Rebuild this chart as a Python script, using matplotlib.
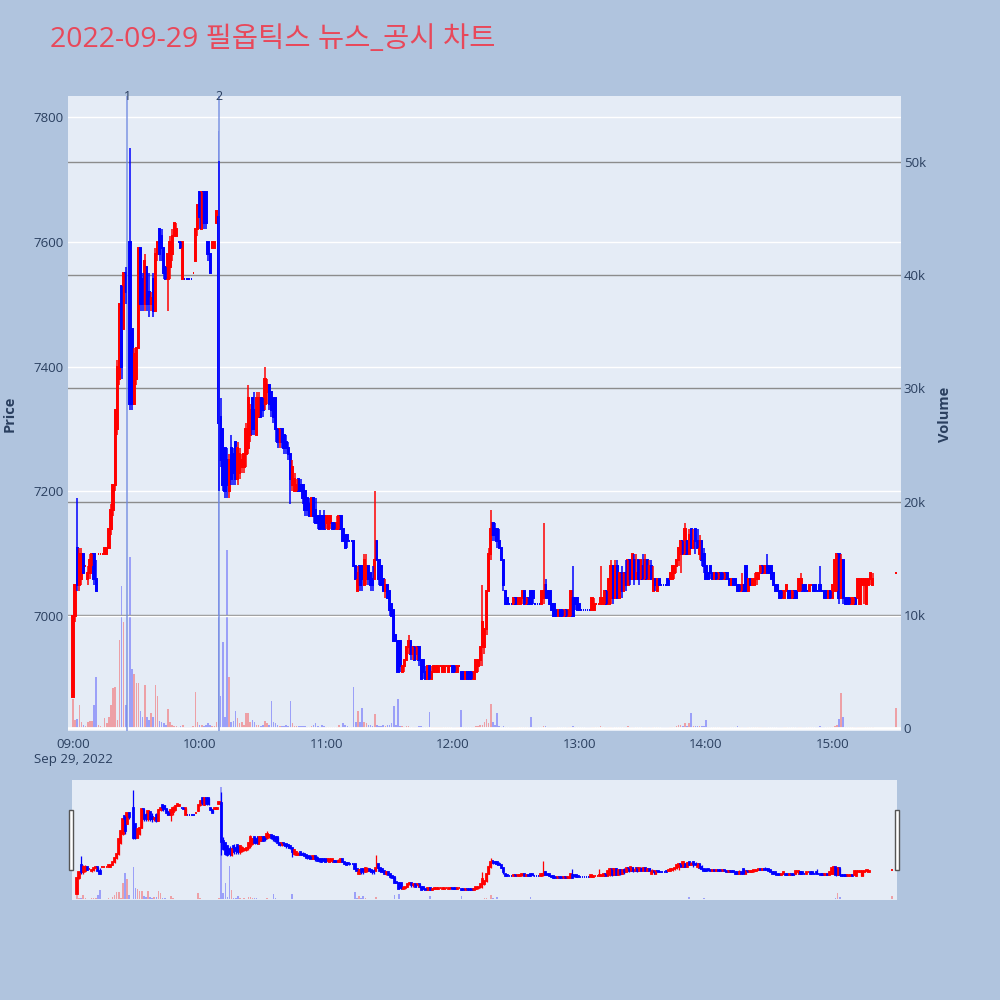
import pandas as pd
import matplotlib
matplotlib.use('Agg')
import matplotlib.pyplot as plt
import matplotlib.dates as mdates
import matplotlib.transforms as mtransforms
from matplotlib.patches import Rectangle
from matplotlib.ticker import FuncFormatter

plt.rcParams['font.family'] = ['Open Sans', 'Noto Sans CJK KR', 'DejaVu Sans']

title = '2022-09-29 필옵틱스 뉴스_공시 차트'
start = '2022-09-29 09:00'

# one candle per minute from 09:00 to 15:30 (None = no trade)
opens = [
    6870, 7000, 7110, 7050, 7060, 7100, 7080, 7060, 7070, 7090,
    7100, 7060, 7100, 7100, 7100, 7100, 7100, 7110, 7140, 7170,
    7210, 7300, 7380, 7530, 7460, 7550, None, 7600, 7460, 7340,
    7380, 7430, 7590, 7540, 7500, 7560, 7520, 7500, 7540, 7490,
    7580, 7620, 7610, 7590, 7560, 7540, 7560, 7580, 7610, 7610,
    7600, 7600, 7540, 7540, 7540, 7540, 7540, 7550, 7570, 7620,
    7680, 7620, 7680, 7680, 7600, 7580, 7590, 7590, 7630, 7640,
    7320, 7300, 7270, 7250, 7200, 7270, 7260, 7280, 7220, 7230,
    7240, 7240, 7260, 7270, 7290, 7350, 7330, 7290, 7320, 7350,
    7350, 7340, 7360, 7370, 7360, 7350, 7350, 7300, 7280, 7300,
    7290, 7280, 7270, 7260, 7210, 7200, 7200, 7220, 7210, 7210,
    7200, 7190, 7180, 7160, 7190, 7170, 7160, 7160, 7160, 7160,
    7150, 7140, 7150, 7150, 7150, 7140, 7140, 7160, 7140, 7130,
    7130, 7120, 7120, 7120, 7080, 7040, 7080, 7080, 7050, 7060,
    7080, 7070, 7060, 7060, 7120, 7090, 7080, 7060, 7040, 7050,
    7040, 7020, 7010, 6970, 6960, 6960, 6910, 6920, 6930, 6950,
    6960, 6940, 6950, 6940, 6950, 6930, 6930, 6910, 6900, 6920,
    6900, 6910, 6910, 6910, 6920, 6910, 6910, 6920, 6910, 6920,
    6920, 6920, 6910, 6920, 6910, 6910, 6900, 6910, 6910, 6910,
    6900, 6910, 6920, 6930, 6950, 6950, 6980, 7040, 7100, 7150,
    7140, 7140, 7120, 7110, 7090, 7040, 7030, 7020, 7020, 7020,
    7030, 7020, 7020, 7030, 7040, 7020, 7030, 7040, 7040, 7020,
    7020, 7020, 7020, 7030, 7050, 7040, 7040, 7020, 7020, 7010,
    7000, 7010, 7010, 7000, 7010, 7000, 7000, 7030, 7030, 7030,
    7020, 7010, 7010, 7010, 7010, 7010, 7010, 7010, 7020, 7020,
    7020, 7020, 7020, 7040, 7020, 7030, 7080, 7030, 7080, 7030,
    7070, 7040, 7070, 7050, 7090, 7060, 7090, 7060, 7090, 7060,
    7080, 7060, 7090, 7060, 7080, 7040, 7060, 7040, 7060, 7050,
    7050, 7050, 7060, 7060, 7060, 7070, 7080, 7090, 7100, 7120,
    7100, 7120, 7100, 7140, 7110, 7140, 7120, 7100, 7120, 7100,
    7080, 7070, 7080, 7070, 7060, 7070, 7060, 7070, 7070, 7060,
    7070, 7060, 7050, 7060, 7060, 7050, 7050, 7040, 7050, 7080,
    7040, 7060, 7050, 7050, 7060, 7060, 7070, 7080, 7070, 7080,
    7080, 7080, 7070, 7050, 7050, 7040, 7040, 7030, 7040, 7040,
    7040, 7030, 7040, 7040, 7040, 7050, 7050, 7050, 7040, 7040,
    7050, 7050, 7050, 7040, 7050, 7040, 7040, 7040, 7030, 7040,
    7030, 7040, 7040, 7100, 7030, 7090, 7030, 7030, 7030, 7020,
    7020, 7030, 7030, 7020, 7050, 7050, 7020, 7050, 7060, 7050,
    None, None, None, None, None, None, None, None, None, None,
    7070,
]
highs = [
    7000, 7050, 7190, 7110, 7110, 7100, 7080, 7080, 7100, 7100,
    7100, 7090, 7100, 7100, 7100, 7110, 7110, 7140, 7180, 7210,
    7330, 7410, 7500, 7530, 7550, 7560, None, 7750, 7460, 7430,
    7430, 7590, 7590, 7550, 7580, 7560, 7550, 7520, 7550, 7590,
    7600, 7620, 7620, 7590, 7560, 7580, 7610, 7620, 7630, 7630,
    7600, 7600, 7600, 7540, 7540, 7540, 7540, 7550, 7620, 7660,
    7680, 7680, 7680, 7680, 7600, 7580, 7600, 7600, 7650, 7730,
    7350, 7300, 7270, 7270, 7260, 7290, 7270, 7280, 7280, 7270,
    7260, 7260, 7310, 7370, 7340, 7350, 7360, 7360, 7360, 7350,
    7350, 7400, 7380, 7370, 7360, 7350, 7350, 7300, 7300, 7300,
    7290, 7290, 7280, 7260, 7250, 7230, 7220, 7220, 7220, 7210,
    7200, 7190, 7190, 7190, 7190, 7190, 7160, 7170, 7160, 7170,
    7160, 7160, 7160, 7150, 7150, 7160, 7160, 7160, 7140, 7130,
    7130, 7120, 7120, 7120, 7080, 7080, 7080, 7080, 7100, 7100,
    7080, 7070, 7080, 7200, 7120, 7090, 7080, 7060, 7060, 7050,
    7040, 7020, 7010, 6970, 6960, 6960, 6920, 6930, 6950, 6970,
    6960, 6950, 6950, 6950, 6950, 6930, 6930, 6920, 6920, 6920,
    6920, 6920, 6920, 6920, 6920, 6920, 6920, 6920, 6920, 6920,
    6920, 6920, 6920, 6920, 6910, 6910, 6910, 6910, 6910, 6910,
    6910, 6930, 6930, 6950, 7050, 6980, 7040, 7110, 7170, 7150,
    7150, 7140, 7140, 7110, 7090, 7040, 7030, 7020, 7020, 7030,
    7030, 7030, 7030, 7040, 7040, 7030, 7030, 7040, 7040, 7020,
    7020, 7020, 7040, 7150, 7060, 7040, 7040, 7020, 7020, 7010,
    7010, 7010, 7010, 7010, 7010, 7010, 7040, 7080, 7030, 7030,
    7020, 7010, 7010, 7010, 7010, 7010, 7030, 7030, 7020, 7020,
    7080, 7030, 7040, 7040, 7060, 7090, 7080, 7090, 7090, 7070,
    7080, 7070, 7090, 7090, 7090, 7100, 7100, 7100, 7090, 7090,
    7100, 7100, 7090, 7090, 7090, 7080, 7060, 7060, 7060, 7050,
    7050, 7050, 7060, 7070, 7080, 7080, 7090, 7110, 7120, 7120,
    7150, 7120, 7140, 7140, 7140, 7140, 7140, 7130, 7120, 7110,
    7080, 7070, 7080, 7070, 7070, 7070, 7070, 7070, 7070, 7070,
    7070, 7060, 7060, 7060, 7060, 7050, 7050, 7070, 7050, 7080,
    7060, 7060, 7060, 7070, 7070, 7070, 7080, 7080, 7080, 7100,
    7080, 7080, 7070, 7050, 7050, 7040, 7040, 7040, 7050, 7040,
    7040, 7040, 7040, 7040, 7060, 7070, 7050, 7050, 7040, 7050,
    7050, 7050, 7050, 7040, 7080, 7040, 7040, 7040, 7040, 7040,
    7050, 7090, 7100, 7100, 7100, 7090, 7030, 7030, 7030, 7030,
    7030, 7030, 7060, 7060, 7060, 7060, 7060, 7060, 7070, 7070,
    None, None, None, None, None, None, None, None, None, None,
    7070,
]
lows = [
    6870, 6990, 7040, 7040, 7050, 7070, 7080, 7050, 7060, 7080,
    7050, 7040, 7100, 7100, 7100, 7100, 7100, 7110, 7130, 7160,
    7200, 7290, 7370, 7380, 7460, 7500, None, 7330, 7330, 7340,
    7370, 7430, 7490, 7490, 7490, 7490, 7480, 7490, 7480, 7490,
    7570, 7570, 7570, 7540, 7540, 7490, 7540, 7570, 7610, 7610,
    7600, 7590, 7540, 7540, 7540, 7540, 7540, 7550, 7570, 7610,
    7620, 7620, 7620, 7620, 7570, 7550, 7590, 7590, 7630, 7200,
    7240, 7200, 7190, 7190, 7190, 7210, 7210, 7210, 7210, 7220,
    7230, 7230, 7240, 7260, 7280, 7290, 7290, 7290, 7320, 7320,
    7320, 7330, 7340, 7330, 7320, 7310, 7280, 7270, 7270, 7270,
    7260, 7260, 7250, 7180, 7200, 7200, 7200, 7200, 7200, 7180,
    7160, 7160, 7160, 7160, 7150, 7150, 7140, 7140, 7140, 7140,
    7140, 7140, 7140, 7140, 7140, 7140, 7140, 7140, 7120, 7110,
    7110, 7120, 7120, 7080, 7060, 7040, 7040, 7040, 7050, 7050,
    7050, 7040, 7040, 7060, 7090, 7050, 7050, 7040, 7030, 7030,
    7000, 7000, 6960, 6960, 6910, 6910, 6910, 6910, 6930, 6940,
    6930, 6930, 6930, 6930, 6920, 6900, 6900, 6900, 6900, 6900,
    6900, 6910, 6910, 6910, 6920, 6910, 6910, 6920, 6910, 6920,
    6910, 6910, 6910, 6920, 6900, 6900, 6900, 6900, 6900, 6900,
    6900, 6910, 6910, 6920, 6920, 6940, 6970, 7040, 7090, 7120,
    7120, 7110, 7110, 7090, 7040, 7020, 7020, 7020, 7020, 7020,
    7020, 7020, 7020, 7020, 7020, 7020, 7020, 7020, 7020, 7020,
    7020, 7020, 7020, 7020, 7030, 7030, 7020, 7010, 7000, 7000,
    7000, 7000, 7000, 7000, 7000, 7000, 7000, 7000, 7010, 7010,
    7010, 7010, 7010, 7010, 7010, 7010, 7010, 7010, 7020, 7020,
    7020, 7020, 7020, 7020, 7020, 7020, 7020, 7030, 7030, 7030,
    7030, 7040, 7040, 7050, 7050, 7060, 7050, 7060, 7050, 7060,
    7060, 7060, 7060, 7060, 7060, 7040, 7040, 7040, 7050, 7050,
    7050, 7050, 7050, 7060, 7060, 7060, 7070, 7080, 7070, 7100,
    7100, 7100, 7100, 7110, 7110, 7100, 7110, 7090, 7080, 7070,
    7060, 7060, 7060, 7060, 7060, 7060, 7060, 7060, 7060, 7060,
    7060, 7050, 7050, 7050, 7050, 7040, 7040, 7040, 7040, 7040,
    7040, 7050, 7050, 7050, 7050, 7060, 7070, 7070, 7070, 7070,
    7070, 7060, 7050, 7040, 7040, 7030, 7030, 7030, 7040, 7030,
    7030, 7030, 7030, 7030, 7040, 7040, 7040, 7040, 7040, 7040,
    7050, 7040, 7040, 7040, 7040, 7040, 7030, 7030, 7030, 7030,
    7030, 7040, 7040, 7020, 7030, 7020, 7020, 7020, 7020, 7020,
    7020, 7020, 7030, 7020, 7050, 7020, 7020, 7050, 7050, 7050,
    None, None, None, None, None, None, None, None, None, None,
    7070,
]
closes = [
    7000, 7050, 7050, 7100, 7100, 7070, 7080, 7070, 7090, 7100,
    7060, 7040, 7100, 7100, 7100, 7110, 7110, 7140, 7170, 7210,
    7330, 7400, 7500, 7400, 7550, 7520, None, 7340, 7340, 7420,
    7430, 7590, 7500, 7500, 7570, 7500, 7500, 7510, 7490, 7580,
    7600, 7580, 7590, 7550, 7540, 7580, 7600, 7610, 7630, 7620,
    7600, 7590, 7600, 7540, 7540, 7540, 7540, 7550, 7620, 7660,
    7640, 7680, 7630, 7630, 7580, 7550, 7600, 7600, 7650, 7310,
    7250, 7210, 7200, 7210, 7250, 7220, 7230, 7220, 7270, 7260,
    7250, 7260, 7300, 7350, 7330, 7300, 7300, 7350, 7350, 7320,
    7330, 7380, 7370, 7340, 7330, 7320, 7300, 7280, 7300, 7280,
    7270, 7270, 7260, 7220, 7240, 7220, 7210, 7200, 7200, 7190,
    7170, 7170, 7160, 7190, 7160, 7150, 7150, 7140, 7150, 7140,
    7160, 7160, 7160, 7140, 7140, 7150, 7160, 7140, 7120, 7110,
    7120, 7120, 7120, 7080, 7060, 7070, 7050, 7060, 7090, 7080,
    7060, 7050, 7050, 7090, 7090, 7060, 7050, 7040, 7050, 7030,
    7010, 7000, 6960, 6960, 6910, 6920, 6920, 6930, 6950, 6960,
    6940, 6950, 6930, 6950, 6930, 6900, 6910, 6900, 6920, 6900,
    6910, 6920, 6920, 6920, 6920, 6920, 6920, 6920, 6920, 6920,
    6910, 6910, 6920, 6920, 6900, 6900, 6910, 6900, 6900, 6900,
    6910, 6930, 6930, 6950, 6990, 6980, 7040, 7100, 7140, 7130,
    7130, 7120, 7110, 7090, 7050, 7020, 7020, 7020, 7020, 7030,
    7020, 7030, 7030, 7040, 7020, 7030, 7020, 7020, 7030, 7020,
    7020, 7020, 7040, 7040, 7030, 7030, 7020, 7010, 7000, 7000,
    7010, 7000, 7000, 7010, 7000, 7010, 7040, 7000, 7020, 7010,
    7010, 7010, 7010, 7010, 7010, 7010, 7030, 7020, 7020, 7020,
    7030, 7030, 7040, 7020, 7060, 7080, 7030, 7080, 7030, 7070,
    7040, 7070, 7050, 7090, 7060, 7100, 7060, 7070, 7060, 7090,
    7060, 7090, 7060, 7080, 7060, 7060, 7050, 7060, 7050, 7050,
    7050, 7050, 7050, 7070, 7080, 7080, 7090, 7110, 7120, 7100,
    7140, 7100, 7130, 7110, 7120, 7120, 7110, 7120, 7090, 7080,
    7060, 7060, 7070, 7060, 7070, 7060, 7070, 7060, 7060, 7070,
    7060, 7050, 7060, 7050, 7050, 7040, 7040, 7050, 7040, 7040,
    7060, 7050, 7060, 7060, 7070, 7070, 7080, 7070, 7080, 7070,
    7070, 7060, 7050, 7040, 7040, 7030, 7030, 7040, 7050, 7030,
    7030, 7040, 7030, 7030, 7060, 7060, 7040, 7040, 7040, 7050,
    7050, 7040, 7040, 7040, 7040, 7040, 7030, 7030, 7040, 7030,
    7050, 7090, 7100, 7030, 7090, 7030, 7020, 7020, 7020, 7030,
    7030, 7020, 7060, 7060, 7060, 7060, 7060, 7060, 7070, 7060,
    None, None, None, None, None, None, None, None, None, None,
    7070,
]
volumes = [
    2600, 700, 800, 2000, 500, 300, 200, 500, 600, 600,
    2000, 4500, 300, 200, 100, 900, 400, 1000, 2000, 3500,
    3600, 700, 7800, 12500, 9400, 2000, None, 15100, 5200, 4800,
    4000, 4000, 1500, 1000, 3800, 1000, 700, 1300, 1000, 3800,
    2800, 600, 500, 400, 300, 1700, 500, 300, 200, 200,
    100, 200, 300, 100, 100, 100, 100, 200, 3200, 500,
    300, 300, 200, 300, 400, 300, 200, 200, 500, 52700,
    2800, 7600, 1000, 15700, 4500, 500, 600, 1500, 900, 400,
    500, 300, 1300, 1300, 500, 700, 500, 300, 300, 200,
    300, 600, 400, 300, 2400, 500, 400, 300, 200, 200,
    200, 300, 200, 2400, 400, 200, 200, 200, 200, 200,
    200, 100, 100, 200, 300, 400, 200, 100, 300, 200,
    100, 100, 100, 100, 100, 100, 300, 100, 400, 300,
    200, 100, 100, 3600, 500, 1500, 500, 1800, 500, 400,
    300, 300, 200, 1200, 300, 200, 200, 300, 200, 300,
    300, 400, 1900, 300, 2600, 200, 200, 100, 200, 200,
    100, 100, 100, 100, 200, 200, 100, 100, 100, 1400,
    100, 100, 100, 100, 100, 100, 100, 100, 100, 100,
    100, 100, 100, 100, 1600, 100, 100, 100, 100, 100,
    100, 200, 200, 300, 300, 500, 800, 400, 2100, 500,
    300, 1300, 200, 100, 200, 100, 100, 100, 100, 100,
    100, 100, 100, 100, 100, 100, 100, 1000, 100, 100,
    100, 100, 100, 200, 200, 100, 100, 100, 100, 100,
    100, 100, 100, 100, 100, 100, 100, 200, 100, 100,
    100, 100, 100, 100, 100, 100, 100, 100, 100, 100,
    200, 100, 100, 100, 100, 100, 100, 100, 100, 100,
    100, 100, 100, 200, 100, 100, 100, 100, 100, 100,
    100, 100, 100, 100, 100, 100, 100, 100, 100, 100,
    100, 100, 100, 100, 100, 100, 200, 300, 300, 200,
    400, 200, 400, 1300, 200, 200, 200, 200, 200, 200,
    700, 100, 100, 100, 100, 100, 100, 100, 100, 100,
    100, 100, 100, 100, 100, 200, 100, 100, 100, 100,
    100, 100, 100, 100, 100, 100, 100, 100, 100, 100,
    100, 100, 100, 100, 100, 100, 100, 100, 100, 100,
    100, 100, 100, 100, 100, 100, 100, 100, 100, 100,
    100, 100, 100, 100, 200, 100, 100, 100, 100, 100,
    100, 200, 300, 800, 3100, 1000, 100, 100, 100, 100,
    100, 100, 100, 100, 100, 100, 100, 100, 100, 100,
    None, None, None, None, None, None, None, None, None, None,
    1800,
]

news_times = ['2022-09-29 09:25:45', '2022-09-29 10:09:25']
news_labels = ['1', '2']

price_ticks = [7000, 7200, 7400, 7600, 7800]
volume_ticks = [0, 10000, 20000, 30000, 40000, 50000]
hour_ticks = ['09:00', '10:00', '11:00', '12:00', '13:00', '14:00', '15:00']

UP, DOWN = '#FF0000', '#0000FF'
PAPER, PLOT_BG, TXT = '#B0C4DE', '#E5ECF6', '#2A3F5F'

times = pd.date_range(start, periods=len(closes), freq='min')
df = pd.DataFrame({'open': opens, 'high': highs, 'low': lows,
                   'close': closes, 'volume': volumes}, index=times).dropna()

# candle direction (flat candles follow the previous close, like plotly)
direction = []
prev_c, prev_up = None, True
for o, c in zip(df['open'], df['close']):
    if c != o:
        d = c > o
    elif prev_c is not None and c != prev_c:
        d = c > prev_c
    else:
        d = prev_up
    direction.append(d)
    prev_c, prev_up = c, d
colors = [UP if d else DOWN for d in direction]

x = mdates.date2num(df.index.to_pydatetime())
minute = 1 / 1440
x0 = mdates.date2num(pd.Timestamp(start)) - 2.37 * minute
x1 = mdates.date2num(pd.Timestamp(start)) + 392.4 * minute
price_lim = (6816, 7834)
vol_lim = (-265, 55830)


def draw(ax, axv, wick_lw, body_lw):
    axv.bar(x, df['volume'], width=0.75 * minute, color=colors, alpha=0.32, linewidth=0)
    ax.vlines(x, df['low'], df['high'], colors=colors, linewidth=wick_lw)
    bottoms = df[['open', 'close']].min(axis=1)
    heights = (df['close'] - df['open']).abs()
    ax.bar(x, heights, bottom=bottoms, width=0.6 * minute, color=colors,
           edgecolor=colors, linewidth=body_lw)
    ax.set_xlim(x0, x1)
    ax.set_ylim(*price_lim)
    axv.set_ylim(*vol_lim)
    for a in (ax, axv):
        for s in a.spines.values():
            s.set_visible(False)
    ax.set_zorder(axv.get_zorder() + 1)
    ax.patch.set_visible(False)
    axv.patch.set_visible(True)
    axv.patch.set_facecolor(PLOT_BG)


fig = plt.figure(figsize=(10, 10), dpi=100, facecolor=PAPER)

# main chart
ax = fig.add_axes([0.068, 0.269, 0.833, 0.635])
axv = ax.twinx()
draw(ax, axv, 1.1, 1.4)

ax.set_yticks(price_ticks)
ax.grid(axis='y', color='white', linewidth=1)
ax.set_axisbelow(True)
axv.set_yticks(volume_ticks)
axv.yaxis.set_major_formatter(FuncFormatter(lambda v, p: '0' if v == 0 else f'{v / 1000:.0f}k'))
axv.grid(axis='y', color='#8C8C8C', linewidth=1)
axv.axhline(0, color='white', linewidth=2)

tick_pos = [mdates.date2num(pd.Timestamp('2022-09-29 ' + t)) for t in hour_ticks]
tick_lab = list(hour_ticks)
tick_lab[0] = hour_ticks[0] + '\nSep 29, 2022'
ax.set_xticks(tick_pos)
ax.set_xticklabels(tick_lab)
ax.tick_params(axis='x', length=0, pad=5, labelsize=9.5, labelcolor=TXT)
ax.tick_params(axis='y', length=0, pad=3, labelsize=9.5, labelcolor=TXT)
axv.tick_params(axis='y', length=0, pad=2, labelsize=9.5, labelcolor=TXT)

trans = mtransforms.blended_transform_factory(ax.transData, ax.transAxes)
for t, lab in zip(news_times, news_labels):
    tx = mdates.date2num(pd.Timestamp(t))
    ax.axvline(tx, color='#6F8AE0', alpha=0.75, linewidth=1.3, zorder=1)
    ax.text(tx, 1.0, lab, transform=trans, ha='center', va='center',
            fontsize=9, color=TXT)

# range slider
ax_s = fig.add_axes([0.072, 0.100, 0.825, 0.120])
ax_sv = ax_s.twinx()
draw(ax_s, ax_sv, 0.9, 1.3)
for a in (ax_s, ax_sv):
    a.set_xticks([])
    a.set_yticks([])
for hx in (0.069, 0.895):
    fig.patches.append(Rectangle((hx, 0.130), 0.004, 0.060, transform=fig.transFigure,
                                 facecolor='white', edgecolor='#555555', linewidth=1))

fig.text(0.050, 0.960, title, fontsize=20.5, color='#E8485A', va='center', ha='left')
fig.text(0.010, 0.586, 'Price', rotation=90, fontsize=10.5, fontweight='bold',
         color=TXT, va='center', ha='center')
fig.text(0.945, 0.586, 'Volume', rotation=90, fontsize=10.5, fontweight='bold',
         color=TXT, va='center', ha='center')

fig.savefig('out.png', dpi=100, facecolor=PAPER)
